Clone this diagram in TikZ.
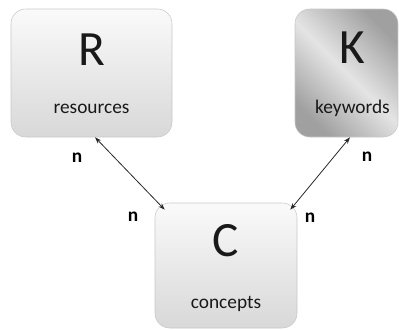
\documentclass[tikz,border=0pt]{standalone}
\usepackage{fontspec}
\setmainfont{Carlito}
\usepackage{tikz}
\usetikzlibrary{arrows.meta}
\usetikzlibrary{positioning}
\usetikzlibrary{calc}
\definecolor{edgegray}{RGB}{200,200,200}
\definecolor{boxtop}{RGB}{250,250,250}
\definecolor{boxbottom}{RGB}{216,216,216}
\definecolor{kdark}{RGB}{160,160,160}
\definecolor{klight}{RGB}{228,228,228}
\definecolor{linegray}{RGB}{40,40,40}
\definecolor{textgray}{RGB}{25,25,25}
\tikzstyle{entity}=[draw=edgegray,rounded corners=11pt,top color=boxtop,bottom color=boxbottom,inner sep=0pt]
\tikzstyle{kentity}=[draw=edgegray,rounded corners=11pt,top color=kdark,bottom color=kdark,middle color=klight,shading angle=-45,inner sep=0pt]
\tikzstyle{letter}=[anchor=base,text=textgray,font=\fontsize{37}{40}\selectfont]
\tikzstyle{word}=[anchor=base,text=textgray,font=\fontsize{14.5}{16}\selectfont]
\tikzstyle{mult}=[font=\fontsize{14.5}{16}\selectfont\bfseries]
\tikzstyle{rel}=[{Stealth[length=5pt,width=3.5pt]}-{Stealth[length=5pt,width=3.5pt]},linegray,line width=0.6pt]

\begin{document}
\begin{tikzpicture}[x=0.75pt,y=-0.75pt]
\useasboundingbox (0,0) rectangle (399,329);
% the three boxes
\node [entity,minimum width=120.75pt,minimum height=96pt] (r) at (91.5,73) {};
\node [kentity,minimum width=77.25pt,minimum height=96pt] (k) at (346.5,73) {};
\node [entity,minimum width=106.5pt,minimum height=93.75pt] (c) at (226,265.5) {};

\node [letter] (rl) at (r) [yshift=6pt] {R};
\node [word] (rw) at (r) [yshift=-30pt] {resources};
\node [letter] (kl) at (k) [xshift=4.5pt,yshift=7.5pt] {K};
\node [word] (kw) at (k) [xshift=4.5pt,yshift=-30pt] {keywords};
\node [letter] (cl) at (c) [yshift=6.4pt] {C};
\node [word] (cw) at (c) [yshift=-32pt] {concepts};

% relations
\draw [rel] ($(r.south)+(3.5,0)$) -- ($(c.north west)+(10,7)$);
\draw [rel] ($(k.south)+(3.5,0)$) -- ($(c.north east)+(-7,7)$);

\node [mult] (rn) at (77,158) {n};
\node [mult] (crn) at (133,217) {n};
\node [mult] (kn) at (367,157) {n};
\node [mult] (ckn) at (310,218) {n};

\end{tikzpicture}
\end{document}
